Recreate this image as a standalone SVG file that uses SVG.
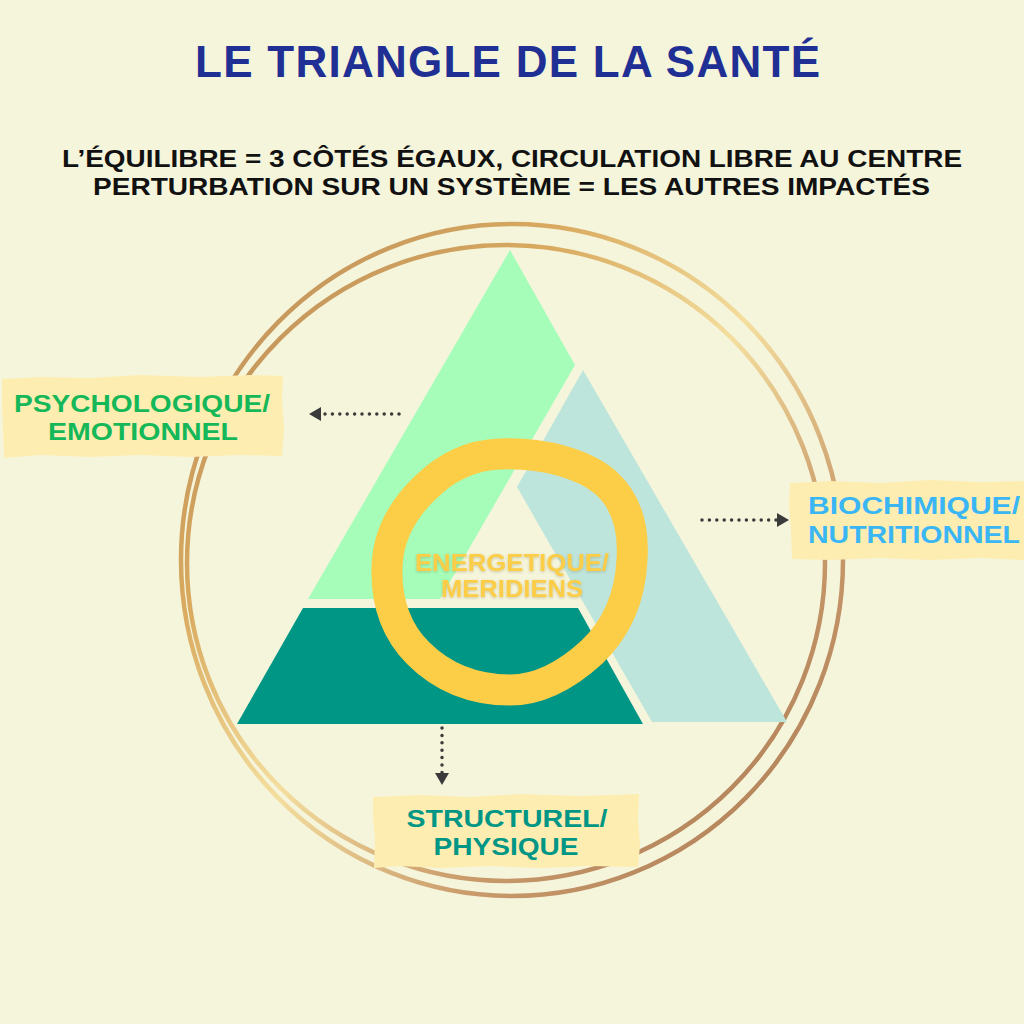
<svg xmlns="http://www.w3.org/2000/svg" width="1024" height="1024" viewBox="0 0 1024 1024">
  <defs>
    <style>
      text { font-family: "Liberation Sans", Arial, sans-serif; font-weight: bold; }
      .title { fill: #1F2F93; font-size: 44px; }
      .sub { fill: #111111; font-size: 24px; }
      .lbl { font-size: 23px; text-anchor: middle; }
      .box { fill: #FEEDB1; }
      .ring { fill: none; stroke: url(#gold); stroke-width: 4.5; }
      .dots { fill: none; stroke: #3A3A3A; stroke-width: 3.5; stroke-linecap: round; stroke-dasharray: 0 7.4; }
    </style>
    <linearGradient id="gold" x1="0" y1="0" x2="1" y2="1">
      <stop offset="0" stop-color="#B6885B"/>
      <stop offset="0.28" stop-color="#D8A95E"/>
      <stop offset="0.5" stop-color="#F4DE9E"/>
      <stop offset="0.72" stop-color="#C99A6A"/>
      <stop offset="1" stop-color="#A47452"/>
    </linearGradient>
    <filter id="glow" x="-10%" y="-30%" width="120%" height="160%">
      <feDropShadow dx="0" dy="1" stdDeviation="1.5" flood-color="#7a6a30" flood-opacity="0.35"/>
    </filter>
    <marker id="ah" viewBox="0 0 12 14" refX="0" refY="7" markerWidth="12" markerHeight="14" orient="auto" markerUnits="userSpaceOnUse">
      <path d="M0,0 L12,7 L0,14 Z" fill="#3A3A3A"/>
    </marker>
  </defs>

  <rect width="1024" height="1024" fill="#F5F5DC"/>

  <g id="header">
    <text class="title" x="195" y="77" textLength="625" lengthAdjust="spacing">LE TRIANGLE DE LA SANTÉ</text>
    <text class="sub" x="62" y="167" textLength="900" lengthAdjust="spacingAndGlyphs">L’ÉQUILIBRE = 3 CÔTÉS ÉGAUX, CIRCULATION LIBRE AU CENTRE</text>
    <text class="sub" x="93" y="195" textLength="837" lengthAdjust="spacingAndGlyphs">PERTURBATION SUR UN SYSTÈME = LES AUTRES IMPACTÉS</text>
  </g>

  <g id="rings">
    <ellipse class="ring" cx="512" cy="560" rx="331" ry="336"/>
    <ellipse class="ring" cx="506" cy="563" rx="319" ry="318"/>
  </g>

  <g id="triangle">
    <polygon id="piece-green" points="510,250 575,365 440,599 308,599" fill="#A6FDB9"/>
    <polygon id="piece-lightteal" points="583,370 787,722 652,722 517,487" fill="#BEE5DC"/>
    <polygon id="piece-darkteal" points="303,608 578,608 643,724 237,724" fill="#009685"/>
  </g>

  <g id="node-energetique">
    <path d="M 500 454 C 545 452, 585 465, 605 482 C 628 502, 634 530, 632 560 C 630 600, 615 630, 592 652 C 567 675, 540 690, 510 690 C 470 690, 440 675, 418 653 C 395 630, 386 600, 387 567 C 388 535, 402 510, 425 488 C 445 468, 470 455, 500 454 Z" fill="none" stroke="#FCCD46" stroke-width="31"/>
    <g filter="url(#glow)" fill="#FCCD46">
      <text x="512" y="571" font-size="23" text-anchor="middle" textLength="194" lengthAdjust="spacingAndGlyphs">ENERGETIQUE/</text>
      <text x="512" y="597" font-size="23" text-anchor="middle" textLength="142" lengthAdjust="spacingAndGlyphs">MERIDIENS</text>
    </g>
  </g>

  <g id="connectors">
    <line class="dots" x1="399" y1="414" x2="321" y2="414" marker-end="url(#ah)"/>
    <line class="dots" x1="702" y1="520" x2="777" y2="520" marker-end="url(#ah)"/>
    <line class="dots" x1="442" y1="728" x2="442" y2="773" marker-end="url(#ah)"/>
  </g>

  <g id="node-psychologique">
    <polygon class="box" points="2,379 40,377 90,378 140,375 200,377 250,375 283,376 282,400 284,430 282,456 240,455 190,457 140,455 90,457 40,455 4,458 3,430 2,400"/>
    <text class="lbl" x="142" y="412" fill="#15B859" textLength="256" lengthAdjust="spacingAndGlyphs">PSYCHOLOGIQUE/</text>
    <text class="lbl" x="143" y="440" fill="#15B859" textLength="190" lengthAdjust="spacingAndGlyphs">EMOTIONNEL</text>
  </g>

  <g id="node-biochimique">
    <polygon class="box" points="790,483 830,481 880,483 930,480 980,482 1024,481 1024,560 980,558 930,560 880,558 830,560 792,559 791,530 789,505"/>
    <text class="lbl" x="914" y="514" fill="#3AB6F5" textLength="212" lengthAdjust="spacingAndGlyphs">BIOCHIMIQUE/</text>
    <text class="lbl" x="914" y="543" fill="#3AB6F5" textLength="212" lengthAdjust="spacingAndGlyphs">NUTRITIONNEL</text>
  </g>

  <g id="node-structurel">
    <polygon class="box" points="373,797 420,795 470,797 520,794 580,796 639,794 638,820 640,845 638,867 590,866 540,868 490,866 440,868 400,866 374,868 375,840 373,818"/>
    <text class="lbl" x="507" y="827" fill="#009685" textLength="201" lengthAdjust="spacingAndGlyphs">STRUCTUREL/</text>
    <text class="lbl" x="506" y="855" fill="#009685" textLength="145" lengthAdjust="spacingAndGlyphs">PHYSIQUE</text>
  </g>
</svg>
